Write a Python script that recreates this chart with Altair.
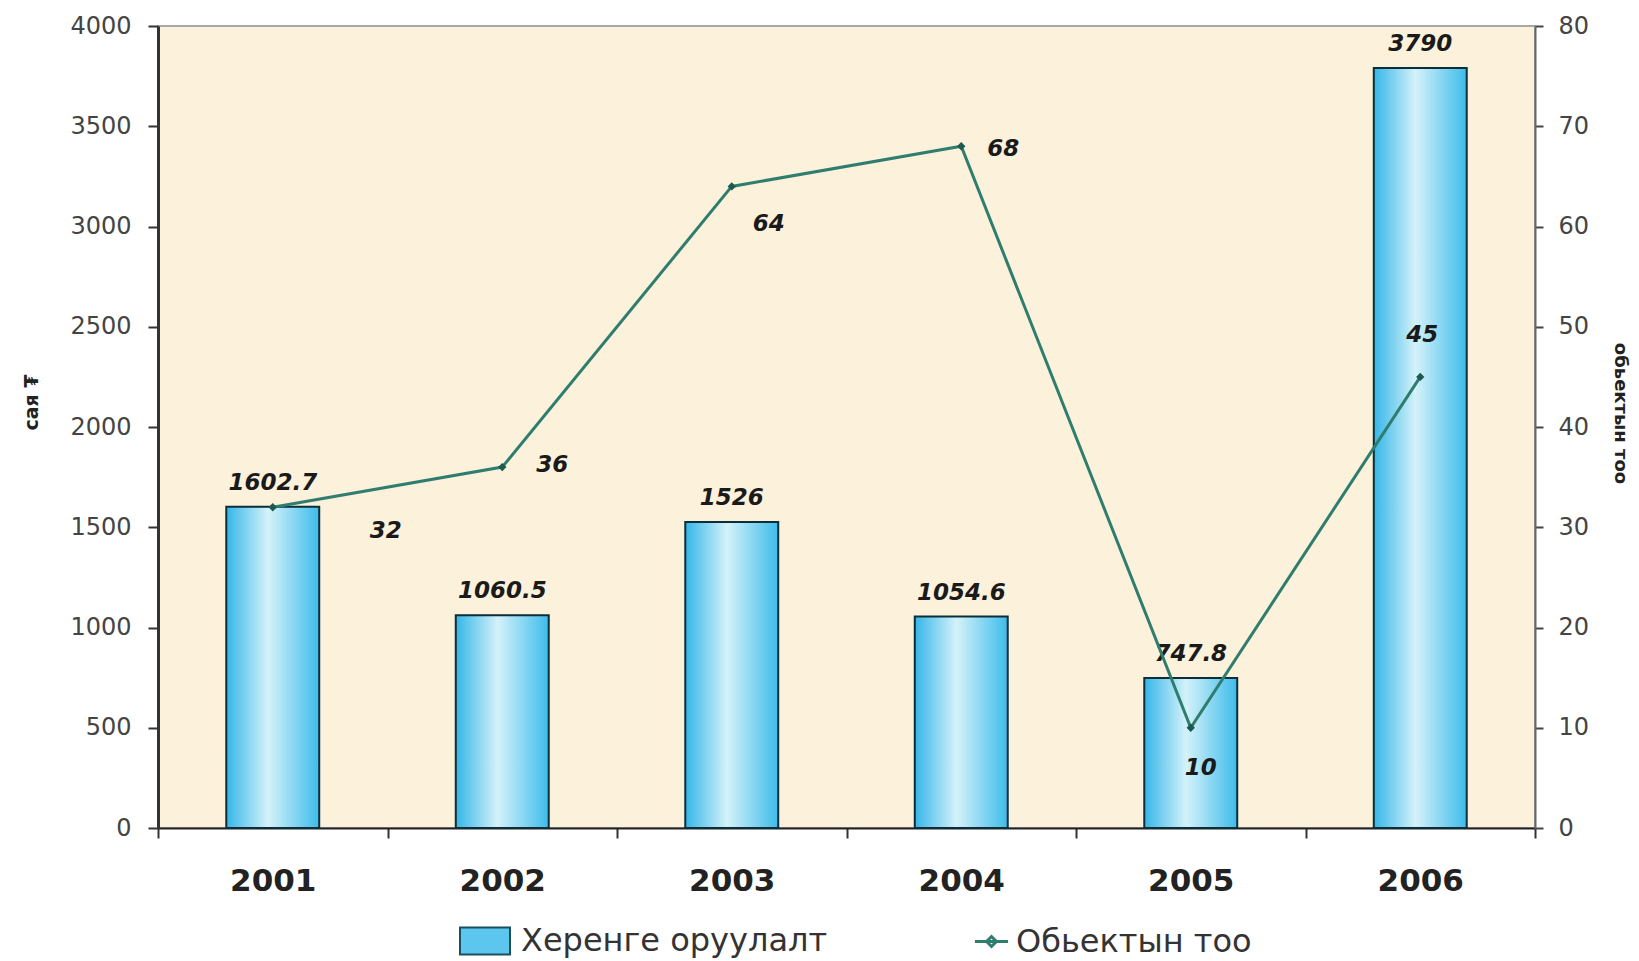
import altair as alt
import pandas as pd

years = ["2001", "2002", "2003", "2004", "2005", "2006"]
investment = [1602.7, 1060.5, 1526, 1054.6, 747.8, 3790]
objects = [32, 36, 64, 68, 10, 45]

bar_name = "Херенге оруулалт"
line_name = "Обьектын тоо"

df = pd.DataFrame({
    "year": years,
    "investment": investment,
    "objects": objects,
    "inv_label": [f"{v:g}" for v in investment],
    "obj_label": [str(v) for v in objects],
})

FONT = "DejaVu Sans"
LINE_COLOR = "#2E7D6F"

base = alt.Chart(df)

x_enc = alt.X(
    "year:N",
    scale=alt.Scale(paddingInner=0, paddingOuter=0),
    axis=alt.Axis(
        title=None, labelAngle=0, labelFontSize=31, labelFontWeight="bold",
        labelColor="#222", labelPadding=28, tickBand="extent", tickSize=10,
        tickWidth=2, tickColor="#333", domainColor="#222", domainWidth=2,
        grid=False, labelFont=FONT,
    ),
)

y_left = alt.Y(
    "investment:Q",
    scale=alt.Scale(domain=[0, 4000]),
    axis=alt.Axis(
        values=list(range(0, 4001, 500)), format="d", title="сая ₮",
        titleFontSize=19, titleFontWeight="bold", titleColor="#222",
        titleX=-127, titleY=376, titleAngle=-90, titleAlign="center",
        titleBaseline="middle", labelFontSize=24, labelColor="#444",
        labelPadding=17, tickSize=10, tickWidth=2, tickColor="#333",
        domainColor="#333", domainWidth=3, grid=False, labelFont=FONT,
        titleFont=FONT,
    ),
)

y_right = alt.Y(
    "objects:Q",
    scale=alt.Scale(domain=[0, 80]),
    axis=alt.Axis(
        orient="right", values=list(range(0, 81, 10)), format="d",
        title="обьектын тоо", titleFontSize=18, titleFontWeight="bold",
        titleColor="#222", titleX=84, titleY=387, titleAngle=90,
        titleAlign="center", titleBaseline="middle", labelFontSize=24,
        labelColor="#444", labelPadding=15, tickSize=8, tickWidth=2,
        tickColor="#444", domainColor="#666", domainWidth=2, grid=False,
        labelFont=FONT, titleFont=FONT,
    ),
)

BAR_W = alt.RelativeBandSize(0.405)

# legend-carrying solid bar (underneath)
bar_legend = base.transform_calculate(series=f"'{bar_name}'").mark_bar(width=BAR_W).encode(
    x=x_enc,
    y=y_left,
    color=alt.Color(
        "series:N",
        scale=alt.Scale(domain=[bar_name], range=["#5CC6EE"]),
        legend=alt.Legend(
            title=None, orient="none", legendX=301, legendY=889,
            symbolType="M-1,-0.54H1V0.54H-1Z", symbolSize=2500,
            symbolStrokeColor="#1B4E5E", symbolStrokeWidth=2,
            labelFontSize=32, labelColor="#333", labelFont=FONT,
            labelOffset=10, labelLimit=600,
        ),
    ),
)

gradient = alt.Gradient(
    gradient="linear",
    stops=[
        alt.GradientStop(color="#35B6E8", offset=0),
        alt.GradientStop(color="#D4F2F9", offset=0.45),
        alt.GradientStop(color="#3DBCEB", offset=1),
    ],
    x1=0, x2=1, y1=0, y2=0,
)

bar_grad = base.mark_bar(
    width=BAR_W, fill=gradient, stroke="#0B2E38", strokeWidth=2
).encode(x=x_enc, y=y_left)

bar_text = base.mark_text(
    dy=-24, fontSize=23, fontStyle="italic", fontWeight="bold", color="#1a1a1a",
    font=FONT,
).encode(x=x_enc, y=y_left, text="inv_label:N")

bars = alt.layer(bar_legend, bar_grad, bar_text)

line = base.transform_calculate(series2=f"'{line_name}'").mark_line(
    strokeWidth=3
).encode(
    x=x_enc,
    y=y_right,
    stroke=alt.Stroke(
        "series2:N",
        scale=alt.Scale(domain=[line_name], range=[LINE_COLOR]),
        legend=alt.Legend(
            title=None, orient="none", legendX=815, legendY=897,
            symbolType="M-1,0H1M-0.3,0L0,-0.3L0.3,0L0,0.3Z",
            symbolSize=1100, symbolStrokeWidth=3,
            labelFontSize=32, labelColor="#333", labelFont=FONT,
            labelOffset=6, labelLimit=600,
        ),
    ),
)

points = base.mark_point(
    shape="diamond", filled=True, size=70, color="#1C5A50", opacity=1
).encode(x=x_enc, y=y_right)

offsets = {
    "2001": (113, 24), "2002": (50, -2), "2003": (37, 38),
    "2004": (42, 3), "2005": (10, 40), "2006": (2, -42),
}
label_layers = []
for yr in years:
    dx, dy = offsets[yr]
    label_layers.append(
        base.transform_filter(alt.datum.year == yr).mark_text(
            dx=dx, dy=dy, fontSize=23, fontStyle="italic", fontWeight="bold",
            color="#1a1a1a", font=FONT,
        ).encode(x=x_enc, y=y_right, text="obj_label:N")
    )

lines = alt.layer(line, points, *label_layers)

chart = alt.layer(bars, lines).resolve_scale(y="independent").properties(
    width=1377,
    height=802,
    autosize="none",
    padding={"left": 150, "top": 18, "right": 96, "bottom": 130},
    background="white",
).configure(font=FONT).configure_view(
    fill="#FCF1DA", stroke="#A8A8A8", strokeWidth=2
)

chart.save("out.html", embed_options={"renderer": "svg", "actions": False})
